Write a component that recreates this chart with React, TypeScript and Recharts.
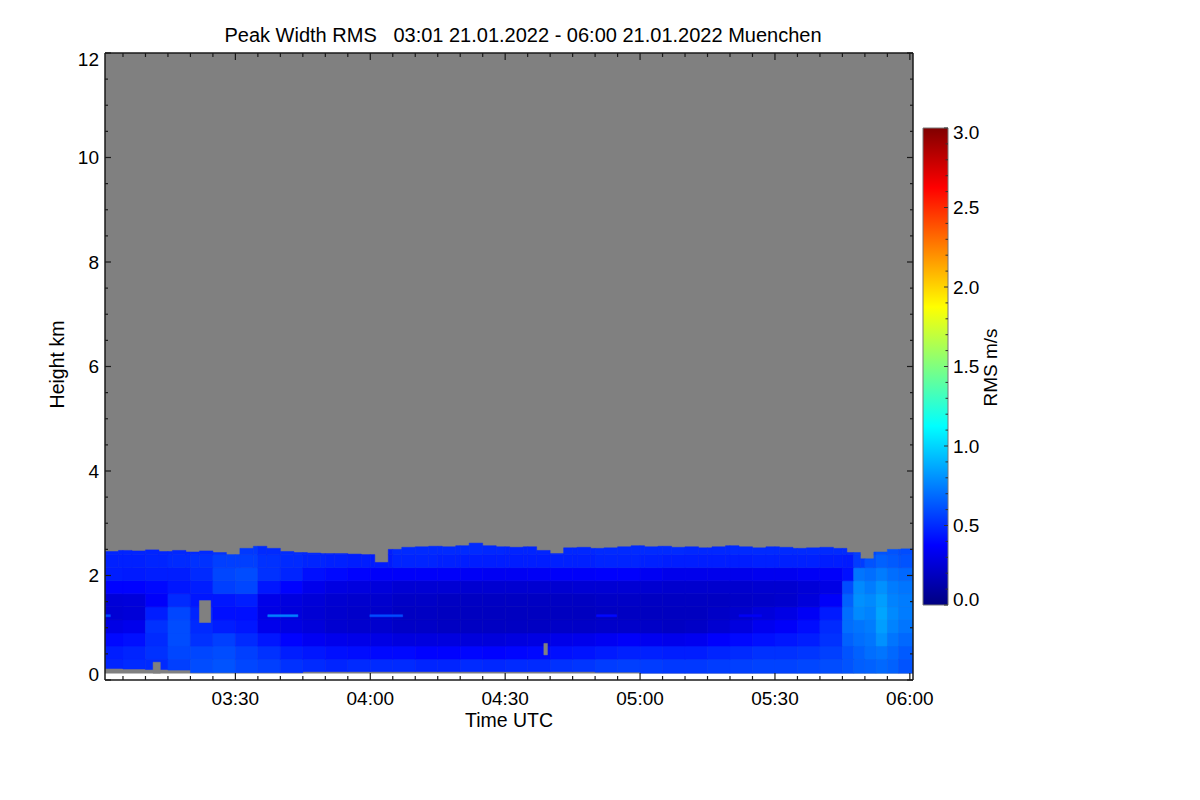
import React from 'react';
import { ComposedChart, XAxis, YAxis, ReferenceArea, Label, Line } from 'recharts';

const FONT = '"Liberation Sans", Arial, Helvetica, sans-serif';

// ---- time axis (minutes after 00:00 UTC) ----
const timeEdges = [181, 185, 190, 195, 200, 205, 210, 215, 220, 225, 230, 235, 240, 245, 250, 255, 260, 265, 270, 275, 280, 285, 290, 295, 300, 305, 310, 315, 320, 325, 330, 335, 340, 345, 347.5, 350, 352.5, 355, 357.5, 360.7];
const xTicks = [185, 190, 195, 200, 205, 210, 215, 220, 225, 230, 235, 240, 245, 250, 255, 260, 265, 270, 275, 280, 285, 290, 295, 300, 305, 310, 315, 320, 325, 330, 335, 340, 345, 350, 355, 360];
const yTicks = [0, 0.5, 1, 1.5, 2, 2.5, 3, 3.5, 4, 4.5, 5, 5.5, 6, 6.5, 7, 7.5, 8, 8.5, 9, 9.5, 10, 10.5, 11, 11.5, 12];
const cbTicks = [0, 0.1, 0.2, 0.3, 0.4, 0.5, 0.6, 0.7, 0.8, 0.9, 1.0, 1.1, 1.2, 1.3, 1.4, 1.5, 1.6, 1.7, 1.8, 1.9, 2.0, 2.1, 2.2, 2.3, 2.4, 2.5, 2.6, 2.7, 2.8, 2.9, 3.0];

// ---- height bins (km) ----
const heightEdges = [0.13, 0.4, 0.65, 0.9, 1.15, 1.4, 1.65, 1.9, 2.15, 2.4, 2.7];
const firstGate = 0.13;

// lowest valid data height per time column
const dataBottom = [0.22, 0.21, 0.2, 0.19, 0.14, 0.14, 0.14, 0.14, 0.14, 0.16, 0.16, 0.16, 0.16, 0.16, 0.16, 0.16, 0.16, 0.16, 0.16, 0.16, 0.16, 0.16, 0.15, 0.15, 0.13, 0.13, 0.13, 0.13, 0.13, 0.13, 0.13, 0.13, 0.13, 0.13, 0.13, 0.13, 0.13, 0.13, 0.13];

// RMS (m/s) per time column, one array per height band
const rmsRow0 = [0.48, 0.50, 0.50, 0.56, 0.60, 0.62, 0.58, 0.56, 0.52, 0.50, 0.48, 0.50, 0.50, 0.50, 0.48, 0.48, 0.50, 0.49, 0.50, 0.50, 0.52, 0.53, 0.55, 0.56, 0.55, 0.54, 0.54, 0.55, 0.56, 0.57, 0.57, 0.58, 0.60, 0.62, 0.65, 0.66, 0.68, 0.66, 0.62];
const rmsRow1 = [0.46, 0.48, 0.52, 0.58, 0.58, 0.60, 0.56, 0.52, 0.46, 0.44, 0.42, 0.41, 0.40, 0.40, 0.38, 0.38, 0.39, 0.38, 0.39, 0.40, 0.42, 0.43, 0.45, 0.47, 0.47, 0.46, 0.46, 0.48, 0.50, 0.52, 0.52, 0.53, 0.56, 0.62, 0.66, 0.70, 0.72, 0.68, 0.64];
const rmsRow2 = [0.40, 0.42, 0.50, 0.60, 0.52, 0.56, 0.50, 0.44, 0.38, 0.34, 0.32, 0.31, 0.30, 0.28, 0.28, 0.28, 0.27, 0.27, 0.28, 0.29, 0.31, 0.32, 0.34, 0.36, 0.33, 0.32, 0.33, 0.37, 0.40, 0.42, 0.44, 0.46, 0.52, 0.66, 0.70, 0.72, 0.80, 0.72, 0.68];
const rmsRow3 = [0.30, 0.32, 0.52, 0.60, 0.50, 0.46, 0.44, 0.32, 0.29, 0.27, 0.24, 0.23, 0.23, 0.21, 0.21, 0.20, 0.20, 0.20, 0.20, 0.20, 0.21, 0.21, 0.22, 0.22, 0.21, 0.20, 0.21, 0.24, 0.28, 0.33, 0.36, 0.41, 0.50, 0.70, 0.72, 0.74, 0.84, 0.76, 0.72];
const rmsRow4 = [0.25, 0.26, 0.46, 0.58, 0.48, 0.42, 0.42, 0.30, 0.27, 0.25, 0.23, 0.22, 0.22, 0.20, 0.20, 0.19, 0.19, 0.19, 0.19, 0.19, 0.19, 0.19, 0.20, 0.20, 0.19, 0.19, 0.19, 0.21, 0.23, 0.27, 0.30, 0.35, 0.45, 0.70, 0.78, 0.76, 0.86, 0.78, 0.74];
const rmsRow5 = [0.26, 0.27, 0.36, 0.50, 0.44, 0.44, 0.46, 0.31, 0.28, 0.26, 0.24, 0.23, 0.23, 0.21, 0.21, 0.20, 0.20, 0.20, 0.20, 0.20, 0.20, 0.20, 0.21, 0.21, 0.20, 0.20, 0.20, 0.20, 0.21, 0.22, 0.23, 0.27, 0.36, 0.66, 0.80, 0.78, 0.84, 0.76, 0.74];
const rmsRow6 = [0.38, 0.38, 0.40, 0.44, 0.46, 0.56, 0.58, 0.44, 0.38, 0.32, 0.29, 0.28, 0.27, 0.25, 0.25, 0.25, 0.24, 0.24, 0.24, 0.24, 0.24, 0.25, 0.25, 0.25, 0.24, 0.23, 0.23, 0.23, 0.23, 0.24, 0.24, 0.26, 0.30, 0.60, 0.78, 0.74, 0.80, 0.74, 0.72];
const rmsRow7 = [0.46, 0.45, 0.46, 0.46, 0.50, 0.58, 0.60, 0.52, 0.48, 0.42, 0.40, 0.38, 0.36, 0.36, 0.36, 0.36, 0.35, 0.34, 0.34, 0.35, 0.36, 0.36, 0.37, 0.37, 0.34, 0.32, 0.32, 0.32, 0.32, 0.33, 0.33, 0.35, 0.36, 0.42, 0.72, 0.70, 0.74, 0.70, 0.68];
const rmsRow8 = [0.47, 0.47, 0.48, 0.50, 0.52, 0.56, 0.56, 0.52, 0.50, 0.48, 0.47, 0.46, 0.45, 0.48, 0.48, 0.47, 0.46, 0.46, 0.46, 0.46, 0.47, 0.47, 0.48, 0.48, 0.47, 0.46, 0.46, 0.46, 0.46, 0.47, 0.47, 0.47, 0.46, 0.45, 0.55, 0.62, 0.66, 0.64, 0.62];
const rmsRow9 = [0.48, 0.48, 0.48, 0.49, 0.50, 0.52, 0.54, 0.50, 0.50, 0.49, 0.48, 0.47, 0.46, 0.50, 0.50, 0.50, 0.50, 0.49, 0.48, 0.48, 0.49, 0.49, 0.50, 0.50, 0.50, 0.50, 0.49, 0.49, 0.50, 0.50, 0.50, 0.50, 0.50, 0.50, 0.55, 0.58, 0.62, 0.62, 0.60];
const rmsRows = [rmsRow0, rmsRow1, rmsRow2, rmsRow3, rmsRow4, rmsRow5, rmsRow6, rmsRow7, rmsRow8, rmsRow9];

// top of valid data (km), per 3-minute segment
const topTimes = [181, 184, 187, 190, 193, 196, 199, 202, 205, 208, 211, 214, 217, 220, 223, 226, 229, 232, 235, 238, 241, 244, 247, 250, 253, 256, 259, 262, 265, 268, 271, 274, 277, 280, 283, 286, 289, 292, 295, 298, 301, 304, 307, 310, 313, 316, 319, 322, 325, 328, 331, 334, 337, 340, 343, 346, 349, 352, 355, 358, 360.7];
const topHeights = [
  2.46, 2.48, 2.47, 2.49, 2.46, 2.48, 2.45, 2.47, 2.44, 2.40,
  2.52, 2.56, 2.52, 2.46, 2.44, 2.43, 2.42, 2.42, 2.41, 2.40,
  2.25, 2.50, 2.54, 2.55, 2.56, 2.55, 2.57, 2.62, 2.57, 2.55,
  2.54, 2.55, 2.48, 2.42, 2.53, 2.54, 2.52, 2.53, 2.55, 2.57,
  2.55, 2.56, 2.54, 2.55, 2.53, 2.55, 2.57, 2.55, 2.53, 2.55,
  2.54, 2.52, 2.53, 2.54, 2.52, 2.44, 2.32, 2.45, 2.50, 2.51,
];

// gaps without valid data
const gapStart = [191.7, 202.0, 278.6];
const gapEnd = [193.3, 204.5, 279.4];
const gapLow = [0.13, 1.1, 0.48];
const gapHigh = [0.34, 1.52, 0.7];

// thin horizontal artefact at ~1.23 km
const lineStart = [181, 217.2, 239.9, 290.3, 322];
const lineEnd = [182.2, 223.9, 247.2, 294.8, 327];
const lineRms = [0.6, 0.75, 0.6, 0.4, 0.35];
const lineLow = 1.21;
const lineHigh = 1.25;

// colour bar range
const cbMin = 0;
const cbMax = 3;

const GRAY = '#808080';
const AX = '#1a1a1a';

function jet(v: number): string {
  const n = Math.max(0, Math.min(1, v / 3));
  const f = (k: number) => Math.round(255 * Math.max(0, Math.min(1, 1.5 - Math.abs(4 * n - k))));
  return `rgb(${f(3)},${f(2)},${f(1)})`;
}

function colIndex(t: number): number {
  for (let i = 0; i < timeEdges.length - 1; i++) {
    if (t >= timeEdges[i] && t < timeEdges[i + 1]) return i;
  }
  return timeEdges.length - 2;
}

const fmtTime = (m: number) => {
  const h = Math.floor(m / 60);
  const mm = Math.round(m - h * 60);
  return `${String(h).padStart(2, '0')}:${String(mm).padStart(2, '0')}`;
};

const BOTTOM_MARGIN = 12;
function BottomTick(props: any) {
  const { x, y, payload } = props;
  const v = payload.value;
  const major = v % 30 === 0;
  const ay = y - BOTTOM_MARGIN;
  return (
    <g>
      <line x1={x} x2={x} y1={ay} y2={ay - (major ? 7 : 4)} stroke={AX} strokeWidth={1.2} />
      {major && (
        <text x={x} y={ay + 25} textAnchor="middle" fontSize={19} fontFamily={FONT} fill="#000">
          {fmtTime(v)}
        </text>
      )}
    </g>
  );
}

function TopTick(props: any) {
  const { x, y, payload } = props;
  const major = payload.value % 30 === 0;
  return <line x1={x} x2={x} y1={y} y2={y + (major ? 7 : 4)} stroke={AX} strokeWidth={1.2} />;
}

const LEFT_MARGIN = 6;
function LeftTick(props: any) {
  const { x, y, payload } = props;
  const v = payload.value;
  const major = v % 2 === 0;
  const ax = x + LEFT_MARGIN;
  let shift = 0;
  if (v === 0) shift = -6;
  if (v === 12) shift = 6;
  return (
    <g>
      <line x1={ax} x2={ax + (major ? 6 : 3)} y1={y} y2={y} stroke={AX} strokeWidth={1.2} />
      {major && (
        <text x={x} y={y + shift} dy="0.35em" textAnchor="end" fontSize={19} fontFamily={FONT} fill="#000">
          {v}
        </text>
      )}
    </g>
  );
}

function RightTick(props: any) {
  const { x, y, payload } = props;
  const major = payload.value % 2 === 0;
  return <line x1={x} x2={x - (major ? 6 : 3)} y1={y} y2={y} stroke={AX} strokeWidth={1.2} />;
}

const CB_MARGIN = 5;
function CbTick(props: any) {
  const { x, y, payload } = props;
  const v = payload.value;
  const major = Math.abs(v * 2 - Math.round(v * 2)) < 1e-6;
  const ax = x - CB_MARGIN;
  let shift = 0;
  if (v === 0) shift = -6;
  if (v === 3) shift = 4;
  return (
    <g>
      <line x1={ax} x2={ax - (major ? 4 : 2.5)} y1={y} y2={y} stroke="#333" strokeWidth={1} />
      {major && (
        <text x={x} y={y + shift} dy="0.35em" textAnchor="start" fontSize={19} fontFamily={FONT} fill="#000">
          {v.toFixed(1)}
        </text>
      )}
    </g>
  );
}

function TitleContent(props: any) {
  const vb = props.viewBox;
  return (
    <text x={vb.x + vb.width / 2 + 14} y={vb.y - 10} textAnchor="middle" fontSize={20} fontFamily={FONT} fill="#000">
      {'Peak Width RMS\u00a0\u00a0\u00a003:01 21.01.2022 - 06:00 21.01.2022 Muenchen'}
    </text>
  );
}

function XTitle(props: any) {
  const vb = props.viewBox;
  return (
    <text x={vb.x + vb.width / 2} y={vb.y + 47} textAnchor="middle" fontSize={19.5} fontFamily={FONT} fill="#000">
      Time UTC
    </text>
  );
}

function YTitle(props: any) {
  const vb = props.viewBox;
  const cx = vb.x + 2;
  const cy = vb.y + vb.height / 2 - 2;
  return (
    <text x={cx} y={cy} transform={`rotate(-90, ${cx}, ${cy})`} textAnchor="middle" dominantBaseline="central" fontSize={19.5} fontFamily={FONT} fill="#000">
      Height km
    </text>
  );
}

function CbTitle(props: any) {
  const vb = props.viewBox;
  const cx = vb.x + 42.5;
  const cy = vb.y + vb.height / 2 + 1;
  return (
    <text x={cx} y={cy} transform={`rotate(-90, ${cx}, ${cy})`} textAnchor="middle" dominantBaseline="central" fontSize={19} fontFamily={FONT} fill="#000">
      RMS m/s
    </text>
  );
}

function cell(key: string, x1: number, x2: number, y1: number, y2: number, color: string) {
  return (
    <ReferenceArea
      key={key}
      x1={x1}
      x2={x2}
      y1={y1}
      y2={y2}
      fill={color}
      fillOpacity={1}
      stroke={color}
      strokeWidth={0.5}
      strokeOpacity={1}
      ifOverflow="hidden"
    />
  );
}

// invisible anchor rows so that every axis has data
const boundaryData = topTimes.map((t, i) => ({ t, top: i < topHeights.length ? topHeights[i] : topHeights[topHeights.length - 1] }));
const cbData = [
  { x: 0, v: cbMin },
  { x: 1, v: cbMax },
];

export default function App() {
  const cells: React.ReactElement[] = [];
  cells.push(cell('bg', timeEdges[0], timeEdges[timeEdges.length - 1], firstGate, 12, GRAY));

  for (let r = 0; r < 8; r++) {
    for (let c = 0; c < timeEdges.length - 1; c++) {
      const y1 = r === 0 ? dataBottom[c] : heightEdges[r];
      cells.push(cell(`g${r}_${c}`, timeEdges[c], timeEdges[c + 1], y1, heightEdges[r + 1], jet(rmsRows[r][c])));
    }
  }
  // upper two bands are cut by the top-of-data boundary
  for (let s = 0; s < topHeights.length; s++) {
    const top = topHeights[s];
    const bandEdges = [topTimes[s], topTimes[s + 1]];
    // split the boundary segment on column edges so colours follow the grid
    for (let c = 0; c < timeEdges.length - 1; c++) {
      const a = Math.max(bandEdges[0], timeEdges[c]);
      const b = Math.min(bandEdges[1], timeEdges[c + 1]);
      if (b <= a) continue;
      cells.push(cell(`t8_${s}_${c}`, a, b, heightEdges[8], Math.min(heightEdges[9], top), jet(rmsRow8[c])));
      if (top > heightEdges[9]) {
        cells.push(cell(`t9_${s}_${c}`, a, b, heightEdges[9], top, jet(rmsRow9[c])));
      }
    }
  }
  for (let i = 0; i < lineStart.length; i++) {
    cells.push(cell(`l${i}`, lineStart[i], lineEnd[i], lineLow, lineHigh, jet(lineRms[i])));
  }
  for (let i = 0; i < gapStart.length; i++) {
    cells.push(cell(`gap${i}`, gapStart[i], gapEnd[i], gapLow[i], gapHigh[i], GRAY));
  }

  return (
    <div style={{ position: 'absolute', left: 0, top: 0, width: 1200, height: 800, background: '#fff', fontFamily: FONT }}>
      <div style={{ position: 'absolute', left: 0, top: 0 }}>
        <ComposedChart width={1200} height={800} data={boundaryData} margin={{ top: 52, right: 286, bottom: 80, left: 55 }}>
          <XAxis
            dataKey="t"
            type="number"
            domain={[181, 360.7]}
            allowDataOverflow
            ticks={xTicks}
            interval={0}
            height={40}
            tickSize={0}
            tickMargin={BOTTOM_MARGIN}
            tickLine={false}
            axisLine={{ stroke: AX, strokeWidth: 1.5 }}
            tick={<BottomTick />}
          >
            <Label content={XTitle} />
          </XAxis>
          <XAxis
            xAxisId="top"
            dataKey="t"
            orientation="top"
            type="number"
            domain={[181, 360.7]}
            allowDataOverflow
            ticks={xTicks}
            interval={0}
            height={1}
            tickSize={0}
            tickMargin={0}
            tickLine={false}
            axisLine={{ stroke: AX, strokeWidth: 1.5 }}
            tick={<TopTick />}
          >
            <Label content={TitleContent} />
          </XAxis>
          <YAxis
            type="number"
            domain={[0, 12]}
            allowDataOverflow
            ticks={yTicks}
            interval={0}
            width={50}
            tickSize={0}
            tickMargin={LEFT_MARGIN}
            tickLine={false}
            axisLine={{ stroke: AX, strokeWidth: 1.5 }}
            tick={<LeftTick />}
          >
            <Label content={YTitle} />
          </YAxis>
          <YAxis
            yAxisId="right"
            orientation="right"
            type="number"
            domain={[0, 12]}
            allowDataOverflow
            ticks={yTicks}
            interval={0}
            width={1}
            tickSize={0}
            tickMargin={0}
            tickLine={false}
            axisLine={{ stroke: AX, strokeWidth: 1.5 }}
            tick={<RightTick />}
          />
          {cells}
          <Line dataKey="top" stroke="none" dot={false} activeDot={false} isAnimationActive={false} />
          <Line dataKey="top" xAxisId="top" yAxisId="right" stroke="none" dot={false} activeDot={false} isAnimationActive={false} />
        </ComposedChart>
      </div>
      <div style={{ position: 'absolute', left: 900, top: 0 }}>
        <ComposedChart width={200} height={800} data={cbData} margin={{ top: 128, right: 112, bottom: 195, left: 23 }}>
          <defs>
            <linearGradient id="jetGrad" x1="0" y1="0" x2="0" y2="1">
              <stop offset="0" stopColor="#800000" />
              <stop offset="0.125" stopColor="#ff0000" />
              <stop offset="0.375" stopColor="#ffff00" />
              <stop offset="0.625" stopColor="#00ffff" />
              <stop offset="0.875" stopColor="#0000ff" />
              <stop offset="1" stopColor="#000080" />
            </linearGradient>
          </defs>
          <XAxis dataKey="x" type="number" domain={[0, 1]} allowDataOverflow hide />
          <YAxis
            yAxisId="cb"
            orientation="right"
            type="number"
            domain={[cbMin, cbMax]}
            allowDataOverflow
            ticks={cbTicks}
            interval={0}
            width={40}
            tickSize={0}
            tickMargin={CB_MARGIN}
            tickLine={false}
            axisLine={false}
            tick={<CbTick />}
          >
            <Label content={CbTitle} />
          </YAxis>
          <ReferenceArea yAxisId="cb" x1={0} x2={1} y1={cbMin} y2={cbMax} fill="url(#jetGrad)" fillOpacity={1} stroke="#777" strokeWidth={1} ifOverflow="visible" />
          <Line dataKey="v" yAxisId="cb" stroke="none" dot={false} activeDot={false} isAnimationActive={false} />
        </ComposedChart>
      </div>
    </div>
  );
}
